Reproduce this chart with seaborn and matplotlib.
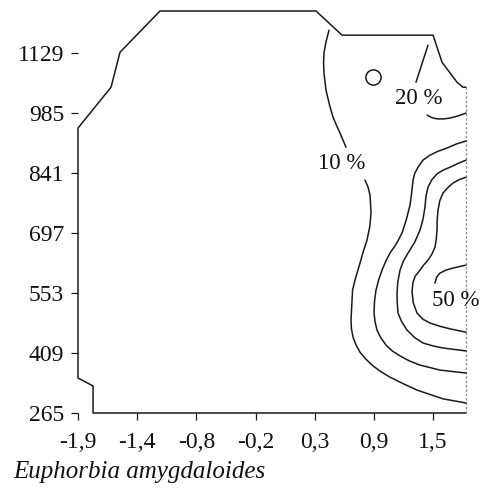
import matplotlib
matplotlib.use("Agg")
import matplotlib.pyplot as plt
import seaborn as sns
import pandas as pd

sns.set_style("white")
plt.rcParams["font.family"] = ["Liberation Serif", "DejaVu Serif"]

# tick labels (x positions are tick indices 0..6)
x_tick_labels = ["-1,9", "-1,4", "-0,8", "-0,2", "0,3", "0,9", "1,5"]
y_ticks = [265, 409, 553, 697, 841, 985, 1129]

# sampled-area boundary (x in tick-index units, y in axis units)
boundary_x = [6.557, 0.254, 0.254, 0.0, 0.0, 0.558, 0.710, 1.386, 4.022, 4.462, 6.0, 6.152, 6.405, 6.507, 6.557]
boundary_y = [265, 265, 330, 349, 949, 1047, 1131, 1230, 1230, 1172, 1172, 1107, 1059, 1047, 1047]
right_edge_x = [6.557, 6.557]
right_edge_y = [1047, 265]

# contour lines
c10a_x = [4.242, 4.190, 4.157, 4.150, 4.157, 4.191, 4.250, 4.310, 4.370, 4.428, 4.529]
c10a_y = [1184, 1155, 1129, 1105, 1081, 1040, 1005, 975, 955, 937, 903]
c10b_x = [4.850, 4.900, 4.935, 4.952, 4.930, 4.884, 4.820, 4.766, 4.681, 4.640, 4.631, 4.614, 4.620, 4.648, 4.700, 4.766, 4.860, 4.969, 5.110, 5.273, 5.500, 5.729, 6.169, 6.557]
c10b_y = [824, 808, 788, 745, 712, 680, 652, 625, 584, 560, 536, 488, 468, 447, 428, 411, 395, 380, 365, 351, 335, 320, 299, 289]
c20a_x = [5.915, 5.712]
c20a_y = [1148, 1059]
c20b_x = [5.898, 5.980, 6.067, 6.180, 6.287, 6.420, 6.557]
c20b_y = [980, 974, 971, 971, 973, 978, 985]
c20c_x = [6.557, 6.400, 6.236, 6.080, 5.949, 5.830, 5.746, 5.690, 5.662, 5.640, 5.611, 5.550, 5.476, 5.380, 5.273, 5.200, 5.138, 5.080, 5.036, 5.010, 5.003, 5.020, 5.053, 5.120, 5.205, 5.310, 5.442, 5.600, 5.780, 6.118, 6.557]
c20c_y = [918, 911, 901, 893, 884, 872, 855, 840, 824, 795, 764, 730, 697, 671, 649, 629, 608, 584, 560, 532, 505, 484, 464, 445, 428, 414, 402, 390, 380, 368, 361]
c30_x = [6.557, 6.420, 6.287, 6.170, 6.067, 5.980, 5.915, 5.880, 5.864, 5.830, 5.780, 5.690, 5.577, 5.500, 5.442, 5.405, 5.391, 5.395, 5.408, 5.470, 5.560, 5.690, 5.831, 6.000, 6.169, 6.557]
c30_y = [872, 864, 855, 848, 839, 825, 807, 785, 759, 730, 704, 675, 649, 630, 608, 580, 553, 530, 505, 484, 464, 446, 433, 426, 421, 414]
c40_x = [6.557, 6.440, 6.338, 6.250, 6.169, 6.115, 6.084, 6.070, 6.067, 6.055, 6.033, 5.980, 5.915, 5.840, 5.780, 5.700, 5.662, 5.645, 5.665, 5.729, 5.830, 5.949, 6.120, 6.287, 6.557]
c40_y = [831, 825, 817, 806, 793, 775, 752, 728, 704, 683, 663, 646, 632, 620, 608, 594, 579, 557, 530, 505, 490, 481, 473, 467, 459]
c50_x = [6.033, 6.060, 6.118, 6.220, 6.338, 6.557]
c50_y = [577, 591, 601, 608, 613, 620]

circle_x = [4.986]
circle_y = [1071]

labels = ["10 %", "20 %", "50 %"]
label_x = [4.462, 5.763, 6.388]
label_y = [865, 1021, 536]

fig = plt.figure(figsize=(4.82, 4.91), dpi=100)
ax = fig.add_axes([78 / 482, 78 / 491, (466 - 78) / 482, (413 - 11) / 491])
ax.set_xlim(0, 6.557)
ax.set_ylim(265, 1230)
for s in ax.spines.values():
    s.set_visible(False)

def draw(xs, ys):
    df = pd.DataFrame({"x": xs, "y": ys})
    sns.lineplot(data=df, x="x", y="y", sort=False, estimator=None, ax=ax,
                 color="#1a1a1a", linewidth=1.1)

draw(boundary_x, boundary_y)
ax.plot(right_edge_x, right_edge_y, color="#888888", linewidth=0.9,
        linestyle=(0, (2, 1.5)), clip_on=False)
for xs, ys in [(c10a_x, c10a_y), (c10b_x, c10b_y), (c20a_x, c20a_y), (c20b_x, c20b_y),
               (c20c_x, c20c_y), (c30_x, c30_y), (c40_x, c40_y), (c50_x, c50_y)]:
    draw(xs, ys)
for line in ax.lines:
    line.set_clip_on(False)
    line.set_solid_joinstyle("round")
    line.set_solid_capstyle("round")

sns.scatterplot(x=circle_x, y=circle_y, ax=ax, s=120, facecolor="white",
                edgecolor="#1a1a1a", linewidth=1.1, zorder=5)

for t, x, y in zip(labels, label_x, label_y):
    ax.text(x, y, t, ha="center", va="center", fontsize=16.5, color="#111111",
            clip_on=False)

ax.set_xticks(range(len(x_tick_labels)))
ax.set_xticklabels(x_tick_labels)
ax.set_yticks(y_ticks)
ax.set_yticklabels([str(v) for v in y_ticks])
ax.tick_params(axis="both", which="both", direction="out", length=5, width=0.9,
               color="#1a1a1a", labelsize=17, labelcolor="#111111", pad=5,
               bottom=True, left=True)
ax.tick_params(axis="x", pad=9)
ax.set_xlabel("")
ax.set_ylabel("")

fig.text(13 / 482, (491 - 478) / 491, "Euphorbia amygdaloides", fontsize=18,
         style="italic", ha="left", va="baseline", color="#111111")

fig.savefig("out.png", dpi=100, facecolor="white")
